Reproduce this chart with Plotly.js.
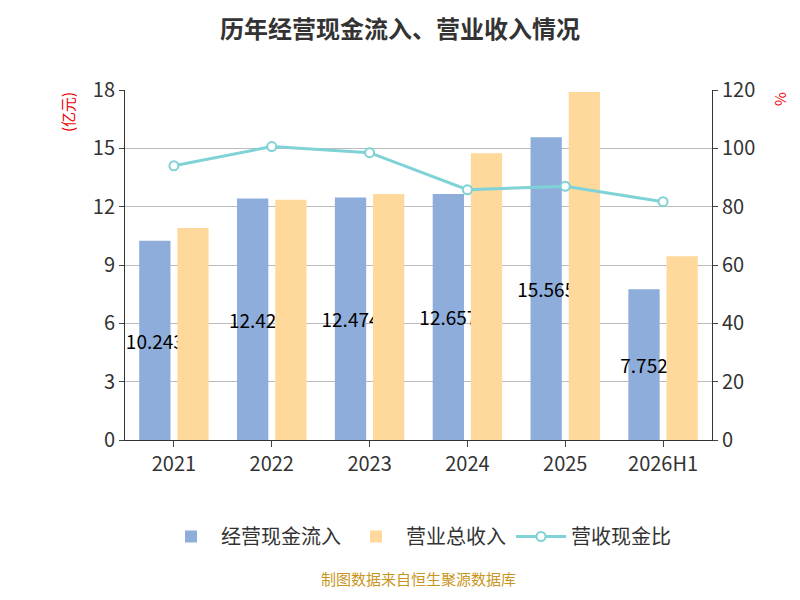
<!DOCTYPE html>
<html><head><meta charset="utf-8">
<script src="https://cdn.plot.ly/plotly-3.0.1.min.js"></script>
<style>body{margin:0}</style></head>
<body><div id="chart" style="width:800px;height:600px"></div>
<script>
var years = ['2021', '2022', '2023', '2024', '2025', '2026H1'];
var cashIn = [10.243, 12.42, 12.474, 12.657, 15.565, 7.752];
var revenue = [10.9, 12.35, 12.65, 14.75, 17.9, 9.45];
var ratio = [94.0, 100.6, 98.5, 85.8, 87.0, 81.7];

var data = [
  {
    name: '经营现金流入', type: 'bar', x: years, y: cashIn,
    text: cashIn.map(function(v) { return String(v); }),
    textposition: 'inside', insidetextanchor: 'middle', constraintext: 'none', textangle: 0,
    textfont: { color: '#000', size: 19 },
    marker: { color: '#8eaddb' }
  },
  {
    name: '营业总收入', type: 'bar', x: years, y: revenue,
    marker: { color: '#ffd99b' }
  },
  {
    name: '营收现金比', type: 'scatter', mode: 'lines+markers', x: years, y: ratio, yaxis: 'y2',
    line: { color: '#7fd2d6', width: 3 },
    marker: { color: '#fff', size: 9, line: { color: '#7fd2d6', width: 2 } }
  }
];

var layout = {
  width: 800, height: 600,
  margin: { l: 125, r: 88, t: 90, b: 160 },
  font: { family: 'Noto Sans CJK SC, sans-serif', color: '#333' },
  title: { text: '<b>历年经营现金流入、营业收入情况</b>', font: { size: 24, color: '#333' }, x: 0.5, y: 0.965 },
  bargap: 0.22, bargroupgap: 0.18,
  showlegend: true,
  legend: { orientation: 'h', x: 0.5, xanchor: 'center', y: -0.22, font: { size: 20 }, itemwidth: 50 },
  xaxis: { type: 'category', tickfont: { size: 20 }, showline: true, linecolor: '#333', ticks: 'outside', ticklen: 6 },
  yaxis: {
    range: [0, 18], dtick: 3, tickfont: { size: 20 }, gridcolor: '#bbb',
    showline: true, linecolor: '#333', ticks: 'outside'
  },
  yaxis2: {
    range: [0, 120], dtick: 20, overlaying: 'y', side: 'right', tickfont: { size: 20 },
    showgrid: false, showline: true, linecolor: '#333', ticks: 'outside'
  },
  annotations: [
    { text: '制图数据来自恒生聚源数据库', xref: 'paper', yref: 'paper', x: 0.5, y: -0.36,
      yanchor: 'top', showarrow: false, font: { size: 15, color: '#c8961e' } },
    { text: '(亿元)', xref: 'paper', yref: 'paper', x: -0.12, y: 1.0, yanchor: 'top',
      textangle: -90, showarrow: false, font: { size: 15, color: '#e00' } },
    { text: '%', xref: 'paper', yref: 'paper', x: 1.14, y: 1.0, yanchor: 'top',
      textangle: 90, showarrow: false, font: { size: 15, color: '#e00' } }
  ]
};

Plotly.newPlot('chart', data, layout, { displayModeBar: false });
</script></body></html>
